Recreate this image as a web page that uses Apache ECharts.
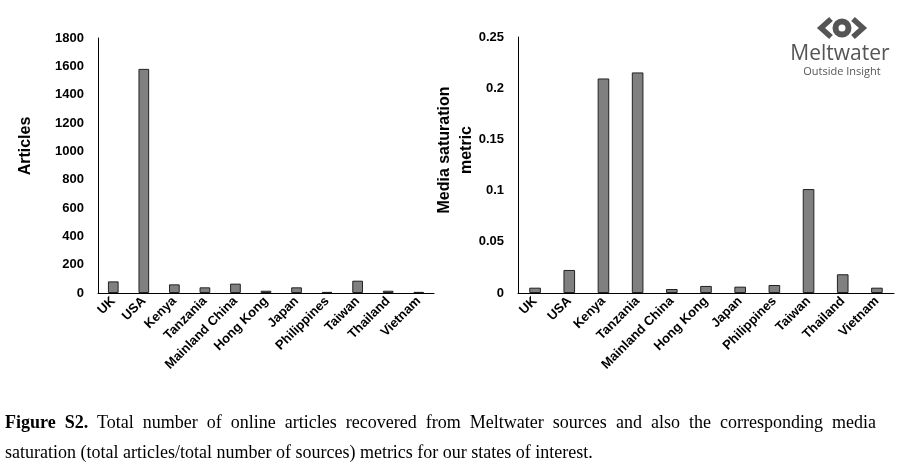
<!DOCTYPE html>
<html>
<head>
<meta charset="utf-8">
<script src="https://cdn.jsdelivr.net/npm/echarts@6/dist/echarts.min.js"></script>
<style>
html,body{margin:0;padding:0;background:#fff;}
#wrap{position:relative;width:905px;height:468px;overflow:hidden;}
#chart{position:absolute;left:0;top:0;width:905px;height:468px;}
#caption{position:absolute;left:5px;top:407px;width:871px;font-family:"Liberation Serif","Times New Roman",serif;font-size:18px;line-height:30px;color:#000;text-align:justify;}
</style>
</head>
<body>
<div id="wrap">
<div id="chart"></div>
<div id="caption"><b>Figure S2.</b> Total number of online articles recovered from Meltwater sources and also the corresponding media saturation (total articles/total number of sources) metrics for our states of interest.</div>
</div>
<script>
const categories = ["UK","USA","Kenya","Tanzania","Mainland China","Hong Kong","Japan","Philippines","Taiwan","Thailand","Vietnam"];
const articles = [82, 1582, 61, 40, 66, 16, 40, 8, 87, 16, 8];
const saturation = [0.0052, 0.0225, 0.2095, 0.2154, 0.0039, 0.0069, 0.0062, 0.0078, 0.1015, 0.0183, 0.0052];
const articleTicks = {min: 0, max: 1800, interval: 200};
const saturationTicks = {min: 0, max: 0.25, interval: 0.05};

const chart = echarts.init(document.getElementById('chart'));
const FONT = 'Liberation Sans, Arial, sans-serif';
const labelFont = {fontFamily: FONT, fontWeight: 'bold', color: '#000'};
function xAxis(gi){
  return {
    type: 'category', gridIndex: gi, data: categories,
    axisLine: {lineStyle: {color: '#000', width: 1}},
    axisTick: {show: false},
    axisLabel: Object.assign({interval: 0, rotate: 45, fontSize: 13, margin: 6}, labelFont)
  };
}
const barStyle = {color: '#808080', borderColor: '#222', borderWidth: 1};
function axisTitle(text, x, y){
  return {type: 'text', x: x, y: y, rotation: Math.PI / 2,
    style: {text: text, font: 'bold 16px ' + FONT, fill: '#000', align: 'center', verticalAlign: 'middle'}};
}
chart.setOption({
  animation: false,
  grid: [
    {left: 98, top: 38, width: 336, height: 255},
    {left: 518, top: 37, width: 376, height: 256}
  ],
  xAxis: [xAxis(0), xAxis(1)],
  yAxis: [
    {type: 'value', gridIndex: 0, min: articleTicks.min, max: articleTicks.max, interval: articleTicks.interval,
     axisLine: {show: true, lineStyle: {color: '#000'}}, axisTick: {show: false}, splitLine: {show: false},
     axisLabel: Object.assign({fontSize: 13, margin: 14, formatter: v => String(v)}, labelFont)},
    {type: 'value', gridIndex: 1, min: saturationTicks.min, max: saturationTicks.max, interval: saturationTicks.interval,
     axisLine: {show: true, lineStyle: {color: '#000'}}, axisTick: {show: false}, splitLine: {show: false},
     axisLabel: Object.assign({fontSize: 13, margin: 14, formatter: v => String(+v.toFixed(2))}, labelFont)}
  ],
  series: [
    {type: 'bar', xAxisIndex: 0, yAxisIndex: 0, data: articles, barWidth: '35%', itemStyle: barStyle},
    {type: 'bar', xAxisIndex: 1, yAxisIndex: 1, data: saturation, barWidth: '34%', itemStyle: barStyle}
  ],
  graphic: [
    axisTitle('Articles', 26, 146),
    axisTitle('Media saturation', 445, 150),
    axisTitle('metric', 467, 150),
    {type: 'polyline', shape: {points: [[831,19],[821,28],[831,37]]}, style: {stroke: '#555', lineWidth: 5.5, fill: null, lineJoin: 'miter'}},
    {type: 'polyline', shape: {points: [[853,19],[863,28],[853,37]]}, style: {stroke: '#555', lineWidth: 5.5, fill: null, lineJoin: 'miter'}},
    {type: 'circle', shape: {cx: 842, cy: 28, r: 6.5}, style: {stroke: '#555', lineWidth: 6, fill: null}},
    {type: 'text', x: 840, y: 54, style: {text: 'Meltwater', font: '21px "Open Sans", sans-serif', fill: '#555', align: 'center', verticalAlign: 'middle'}},
    {type: 'text', x: 842, y: 72, style: {text: 'Outside Insight', font: '11px "Open Sans", sans-serif', fill: '#555', align: 'center', verticalAlign: 'middle'}}
  ]
});
</script>
</body>
</html>
